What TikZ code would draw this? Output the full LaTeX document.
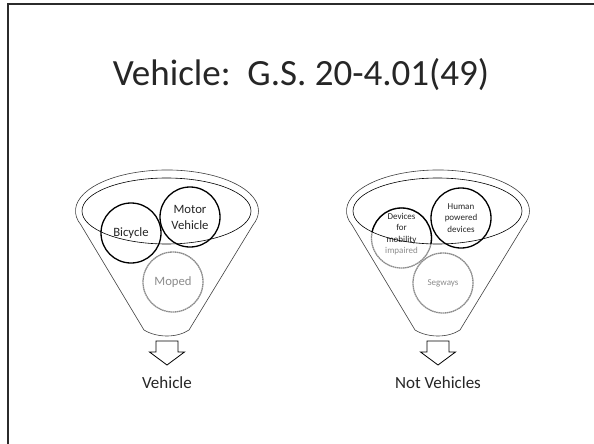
\documentclass[tikz,border=0pt]{standalone}
\usepackage{fontspec}
\setmainfont{Carlito}
\usetikzlibrary{shapes.geometric}
\definecolor{frameC}{HTML}{2B2B2B}
\definecolor{ink}{HTML}{262626}
\definecolor{soft}{HTML}{8C8C8C}
\begin{document}
\begin{tikzpicture}[x=1pt,y=-1pt,
  rimline/.style={draw=black!75, line width=0.6pt},
  bowl/.style={ellipse, draw=black, line width=0.6pt, minimum width=169pt, minimum height=66pt, inner sep=0pt},
  item/.style={circle, draw=black, line width=1.3pt, minimum size=60pt, inner sep=0pt, text=ink,
               font=\fontsize{12.7}{16}\selectfont, align=center},
  faint/.style={draw=soft, dash pattern=on 1.6pt off 0.5pt, text=soft},
  small/.style={font=\fontsize{9}{11.4}\selectfont},
  outarrow/.style={draw=black, line width=0.8pt, fill=white, line join=miter},
  caption/.style={font=\fontsize{17}{20}\selectfont, text=ink},
  funnel/.pic={
    \draw[rimline] (-23,330) -- (-86,225)
      arc[start angle=160, end angle=380, x radius=91.5, y radius=41]
      -- (22,330) .. controls (10,338) and (-10,338) .. (-23,330) -- cycle;
  },
  downarrow/.pic={
    \draw[outarrow] (-11,341) -- (11,341) -- (11,352) -- (17.5,352) -- (0,365)
      -- (-17.5,352) -- (-11,352) -- cycle;
  }
]
\useasboundingbox (0,0) rectangle (594,444);
\fill[white] (0,0) rectangle (594,444);
\draw[frameC, line width=2.6pt] (8,444) -- (8,4) -- (594,4);

\node[font=\fontsize{37}{44}\selectfont, text=ink, anchor=base] (title) at (301,85)
  {Vehicle:\ \ G.S. 20-4.01(49)};

% funnel outlines
\pic at (167,0) {funnel};
\pic at (438,0) {funnel};

% left funnel: vehicles
\node[item] (bike) at (131,233) {Bicycle};
\node[item] (motor) at (190,217) {Motor\\Vehicle};
\node[item, faint] (moped) at (173,282) {Moped};

% right funnel: not vehicles
\node[item, faint, small] (mobility) at (401.5,238) {};
\begin{scope}
  \clip (437.5,211) ellipse [x radius=84.5, y radius=33];
  \draw[black, line width=1.3pt] (mobility.center) circle [radius=30pt];
\end{scope}
\node[small, text=ink, align=center] (mobtext) at (401.5,234)
  {Devices\\for\\mobility\\\textcolor{soft}{impaired}};
\node[item, small] (human) at (461,218) {Human\\powered\\devices};
\node[item, faint, small] (segway) at (443,283) {Segways};

% inner rims drawn over the circles
\node[bowl] (bowlL) at (166.5,211) {};
\node[bowl] (bowlR) at (437.5,211) {};

% outlet arrows and results
\pic at (167,0) {downarrow};
\pic at (438,0) {downarrow};
\node[caption] (vehL) at (167,383) {Vehicle};
\node[caption] (notL) at (438,383) {Not Vehicles};
\end{tikzpicture}
\end{document}
